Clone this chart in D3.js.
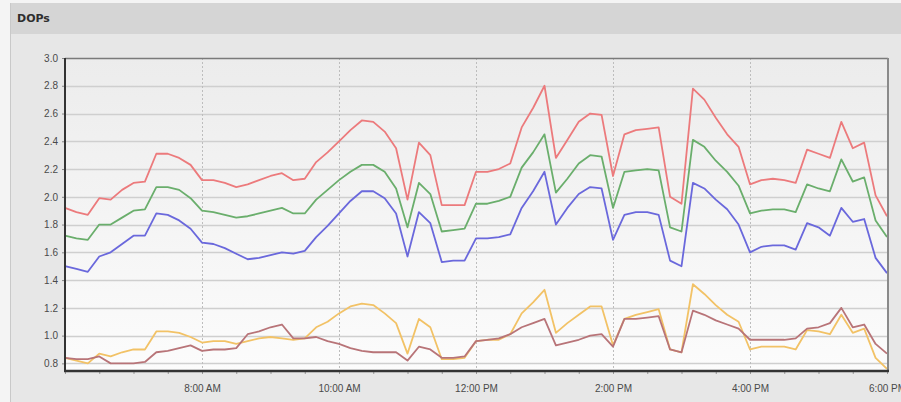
<!DOCTYPE html>
<html>
<head>
<meta charset="utf-8">
<script src="https://cdn.jsdelivr.net/npm/d3@7"></script>
<style>
  html, body { margin: 0; padding: 0; background: #f4f4f4; }
  svg { display: block; }
</style>
</head>
<body>
<svg id="chart" width="901" height="402"></svg>
<script>
// Sampling: one reading every 10 minutes, 6:00 AM to 6:00 PM
const startTime = new Date(2020, 0, 1, 6, 0);
const endTime = new Date(2020, 0, 1, 18, 0);
const stepMinutes = 10;

const yTicks = [0.8, 1.0, 1.2, 1.4, 1.6, 1.8, 2.0, 2.2, 2.4, 2.6, 2.8, 3.0];
const xTickHours = [8, 10, 12, 14, 16, 18];

const pdop = [1.92, 1.89, 1.87, 1.99, 1.98, 2.05, 2.10, 2.11, 2.31, 2.31, 2.28, 2.23,
  2.12, 2.12, 2.10, 2.07, 2.09, 2.12, 2.15, 2.17, 2.12, 2.13, 2.25, 2.32,
  2.40, 2.48, 2.55, 2.54, 2.47, 2.35, 1.98, 2.39, 2.30, 1.94, 1.94, 1.94,
  2.18, 2.18, 2.20, 2.24, 2.50, 2.64, 2.80, 2.28, 2.41, 2.54, 2.60, 2.59,
  2.15, 2.45, 2.48, 2.49, 2.50, 2.00, 1.95, 2.78, 2.70, 2.57, 2.45, 2.36,
  2.09, 2.12, 2.13, 2.12, 2.10, 2.34, 2.31, 2.28, 2.54, 2.35, 2.39, 2.01, 1.86];

const gdop = [1.72, 1.70, 1.69, 1.80, 1.80, 1.85, 1.90, 1.91, 2.07, 2.07, 2.05, 1.99,
  1.90, 1.89, 1.87, 1.85, 1.86, 1.88, 1.90, 1.92, 1.88, 1.88, 1.98, 2.05,
  2.12, 2.18, 2.23, 2.23, 2.18, 2.06, 1.78, 2.10, 2.02, 1.75, 1.76, 1.77,
  1.95, 1.95, 1.97, 2.00, 2.21, 2.32, 2.45, 2.03, 2.13, 2.24, 2.30, 2.29,
  1.92, 2.18, 2.19, 2.20, 2.19, 1.78, 1.75, 2.41, 2.36, 2.26, 2.18, 2.08,
  1.88, 1.90, 1.91, 1.91, 1.89, 2.09, 2.06, 2.04, 2.27, 2.11, 2.14, 1.83, 1.71];

const hdop = [1.50, 1.48, 1.46, 1.57, 1.60, 1.66, 1.72, 1.72, 1.88, 1.87, 1.83, 1.77,
  1.67, 1.66, 1.63, 1.59, 1.55, 1.56, 1.58, 1.60, 1.59, 1.61, 1.71, 1.79,
  1.88, 1.97, 2.04, 2.04, 1.99, 1.88, 1.57, 1.89, 1.81, 1.53, 1.54, 1.54,
  1.70, 1.70, 1.71, 1.73, 1.92, 2.04, 2.18, 1.80, 1.92, 2.02, 2.07, 2.06,
  1.69, 1.87, 1.89, 1.89, 1.87, 1.54, 1.50, 2.10, 2.06, 1.98, 1.91, 1.80,
  1.60, 1.64, 1.65, 1.65, 1.62, 1.81, 1.78, 1.72, 1.92, 1.82, 1.84, 1.56, 1.45];

const vdop = [0.84, 0.82, 0.80, 0.87, 0.85, 0.88, 0.90, 0.90, 1.03, 1.03, 1.02, 0.99,
  0.95, 0.96, 0.96, 0.94, 0.96, 0.98, 0.99, 0.98, 0.97, 0.98, 1.06, 1.10,
  1.16, 1.21, 1.23, 1.22, 1.16, 1.09, 0.87, 1.12, 1.06, 0.83, 0.83, 0.84,
  0.96, 0.97, 0.97, 1.01, 1.16, 1.24, 1.33, 1.02, 1.09, 1.15, 1.21, 1.21,
  0.93, 1.12, 1.15, 1.17, 1.19, 0.90, 0.88, 1.37, 1.30, 1.22, 1.15, 1.10,
  0.90, 0.92, 0.92, 0.92, 0.90, 1.04, 1.03, 1.01, 1.15, 1.02, 1.05, 0.84, 0.76];

const tdop = [0.84, 0.83, 0.83, 0.85, 0.80, 0.80, 0.80, 0.81, 0.88, 0.89, 0.91, 0.93,
  0.89, 0.90, 0.90, 0.91, 1.01, 1.03, 1.06, 1.08, 0.98, 0.98, 0.99, 0.96,
  0.94, 0.91, 0.89, 0.88, 0.88, 0.88, 0.82, 0.92, 0.90, 0.84, 0.84, 0.85,
  0.96, 0.97, 0.98, 1.01, 1.06, 1.09, 1.12, 0.93, 0.95, 0.97, 1.00, 1.01,
  0.92, 1.12, 1.12, 1.13, 1.14, 0.90, 0.88, 1.18, 1.15, 1.11, 1.08, 1.05,
  0.97, 0.97, 0.97, 0.97, 0.98, 1.05, 1.06, 1.09, 1.20, 1.06, 1.08, 0.94, 0.87];

const seriesList = [
  { name: "VDOP", values: vdop, color: "#f2c266" },
  { name: "TDOP", values: tdop, color: "#b87478" },
  { name: "HDOP", values: hdop, color: "#6a68dc" },
  { name: "GDOP", values: gdop, color: "#6aae6c" },
  { name: "PDOP", values: pdop, color: "#ec7a7c" }
];

const svg = d3.select("#chart");
const W = 901, H = 402;
const plot = { left: 65, right: 887, top: 58, bottom: 371 };

// Page, panel and title bar
svg.append("rect").attr("x", 0).attr("y", 0).attr("width", W).attr("height", H).attr("fill", "#f4f4f4");
svg.append("rect").attr("x", 10).attr("y", 3).attr("width", W - 10).attr("height", H - 3).attr("fill", "#e7e7e7");
svg.append("line").attr("x1", 10.5).attr("x2", 10.5).attr("y1", 3).attr("y2", H)
  .attr("stroke", "#c9c9c9").attr("stroke-width", 1);
svg.append("rect").attr("x", 11).attr("y", 3).attr("width", W - 11).attr("height", 31).attr("fill", "#d5d5d5");
svg.append("text").attr("x", 17).attr("y", 22)
  .attr("font-family", "DejaVu Sans, sans-serif").attr("font-weight", "bold")
  .attr("font-size", 11).attr("fill", "#2e2e2e").text("DOPs");

// Plot background gradient
const defs = svg.append("defs");
const grad = defs.append("linearGradient").attr("id", "plotBg").attr("x1", 0).attr("y1", 0).attr("x2", 0).attr("y2", 1);
grad.append("stop").attr("offset", "0%").attr("stop-color", "#ececec");
grad.append("stop").attr("offset", "100%").attr("stop-color", "#fcfcfc");
svg.append("rect").attr("x", plot.left).attr("y", plot.top)
  .attr("width", plot.right - plot.left).attr("height", plot.bottom - plot.top)
  .attr("fill", "url(#plotBg)");

// Scales
const x = d3.scaleTime().domain([startTime, endTime]).range([plot.left, plot.right]);
const y = d3.scaleLinear().domain([0.745, 3.0]).range([plot.bottom, plot.top]);

const times = pdop.map((_, i) => d3.timeMinute.offset(startTime, i * stepMinutes));
const xTickDates = xTickHours.map(h => new Date(2020, 0, 1, h, 0));

// Horizontal grid
svg.append("g").selectAll("line").data(yTicks.filter(v => v < 3.0)).join("line")
  .attr("x1", plot.left).attr("x2", plot.right)
  .attr("y1", d => Math.round(y(d)) + 0.5).attr("y2", d => Math.round(y(d)) + 0.5)
  .attr("stroke", "#cfcfcf").attr("stroke-width", 1.6);

// Vertical dotted grid at label times
svg.append("g").selectAll("line").data(xTickDates.slice(0, -1)).join("line")
  .attr("x1", d => Math.round(x(d)) + 0.5).attr("x2", d => Math.round(x(d)) + 0.5)
  .attr("y1", plot.top).attr("y2", plot.bottom)
  .attr("stroke", "#bdbdbd").attr("stroke-width", 1).attr("stroke-dasharray", "2,2");

// Series lines
const line = d3.line().x((d, i) => x(times[i])).y(d => y(d));
const lineG = svg.append("g");
seriesList.forEach(s => {
  lineG.append("path").datum(s.values)
    .attr("fill", "none").attr("stroke", s.color)
    .attr("stroke-width", 1.8).attr("stroke-linejoin", "round")
    .attr("d", line);
});

// Frame: top and right border
svg.append("line").attr("x1", plot.left).attr("x2", plot.right + 1)
  .attr("y1", plot.top + 0.5).attr("y2", plot.top + 0.5)
  .attr("stroke", "#7a7a7a").attr("stroke-width", 1.5);
svg.append("line").attr("x1", plot.right + 1).attr("x2", plot.right + 1)
  .attr("y1", plot.top).attr("y2", plot.bottom)
  .attr("stroke", "#8a8a8a").attr("stroke-width", 2);

// Y axis
const yAxis = d3.axisLeft(y).tickValues(yTicks).tickFormat(d3.format(".1f")).tickSize(3).tickPadding(4);
const yG = svg.append("g").attr("transform", `translate(${plot.left},0)`).call(yAxis);
yG.select(".domain").remove();
yG.selectAll(".tick line").attr("stroke", "#888");
yG.selectAll("text").attr("font-family", "Liberation Sans, Arial, sans-serif")
  .attr("font-size", 10).attr("fill", "#4a4a4a");

// X axis: labels every 2 hours, minor ticks every 30 minutes
const xAxisMinor = d3.axisBottom(x).ticks(d3.timeMinute.every(30)).tickSize(3).tickFormat("");
const xMinorG = svg.append("g").attr("transform", `translate(0,${plot.bottom})`).call(xAxisMinor);
xMinorG.select(".domain").remove();
xMinorG.selectAll(".tick line").attr("stroke", "#999");

const xAxis = d3.axisBottom(x).tickValues(xTickDates).tickSize(0).tickPadding(14)
  .tickFormat(d3.timeFormat("%-I:%M %p"));
const xG = svg.append("g").attr("transform", `translate(0,${plot.bottom})`).call(xAxis);
xG.select(".domain").remove();
xG.selectAll("text").attr("font-family", "Liberation Sans, Arial, sans-serif")
  .attr("font-size", 10).attr("fill", "#4a4a4a");

// Heavy axis lines
svg.append("line").attr("x1", plot.left).attr("x2", plot.left)
  .attr("y1", plot.top).attr("y2", plot.bottom + 1)
  .attr("stroke", "#333").attr("stroke-width", 2);
svg.append("line").attr("x1", plot.left - 1).attr("x2", plot.right + 2)
  .attr("y1", plot.bottom).attr("y2", plot.bottom)
  .attr("stroke", "#333").attr("stroke-width", 2.5);
</script>
</body>
</html>
